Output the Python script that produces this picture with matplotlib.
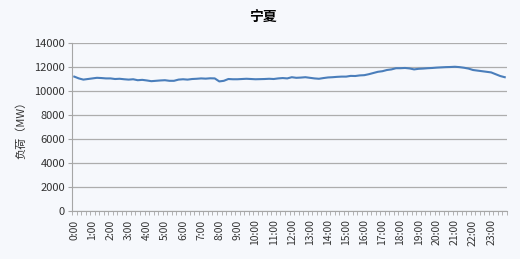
import matplotlib.pyplot as plt
import numpy as np

plt.rcParams['font.family'] = ['Noto Sans CJK SC', 'DejaVu Sans']

# 15-minute load values (MW), 96 points
load = [
    11200, 11050, 10950, 11000,
    11050, 11100, 11080, 11050,
    11050, 11000, 11020, 10980,
    10950, 10980, 10900, 10930,
    10880, 10820, 10850, 10880,
    10900, 10850, 10850, 10950,
    10980, 10950, 11000, 11020,
    11050, 11030, 11060, 11050,
    10800, 10850, 11000, 10980,
    10980, 11000, 11020, 11000,
    10980, 10990, 11000, 11020,
    11000, 11050, 11080, 11050,
    11150, 11100, 11120, 11150,
    11100, 11050, 11020, 11080,
    11130, 11150, 11180, 11200,
    11200, 11260, 11250, 11300,
    11320, 11400, 11500, 11600,
    11650, 11750, 11800, 11900,
    11900, 11920, 11880, 11800,
    11850, 11870, 11900, 11920,
    11950, 11970, 11990, 12000,
    12020, 11990, 11940, 11870,
    11750, 11700, 11650, 11600,
    11550, 11400, 11250, 11150,
]
hour_labels = [f'{h}:00' for h in range(24)]
yticks = [0, 2000, 4000, 6000, 8000, 10000, 12000, 14000]

bg = '#f6f8fc'
fig = plt.figure(figsize=(5.2, 2.59), dpi=100, facecolor=bg)
ax = fig.add_axes([0.1385, 0.185, 0.8365, 0.649], facecolor=bg)

x = np.arange(len(load))
ax.plot(x, load, color='#4a7ebb', linewidth=1.5)

ax.set_xlim(-0.5, len(load) - 0.5)
ax.set_ylim(0, 14000)
ax.set_yticks(yticks)
ax.set_yticklabels([str(v) for v in yticks], fontsize=8, color='#333333')
ax.grid(axis='y', color='#adadad', linewidth=0.9)
ax.set_axisbelow(True)

ax.set_xticks(x[::4])
ax.set_xticklabels(hour_labels, rotation=90, fontsize=7.5, color='#333333')
ax.set_xticks(np.arange(-0.5, len(load), 1), minor=True)
ax.tick_params(axis='x', which='both', length=3, color='#a6a6a6', width=0.6)
ax.tick_params(axis='x', which='major', length=0, pad=6)
ax.tick_params(axis='y', length=3, color='#a6a6a6', pad=2)

for s in ['top', 'right']:
    ax.spines[s].set_visible(False)
for s in ['left', 'bottom']:
    ax.spines[s].set_color('#a6a6a6')

ax.set_ylabel('负荷（MW）', fontsize=8, color='#333333', labelpad=6)
fig.text(0.505, 0.93, '宁夏', ha='center', va='center', fontsize=10, fontweight='bold')

fig.savefig('out.png', dpi=100, facecolor=bg)
